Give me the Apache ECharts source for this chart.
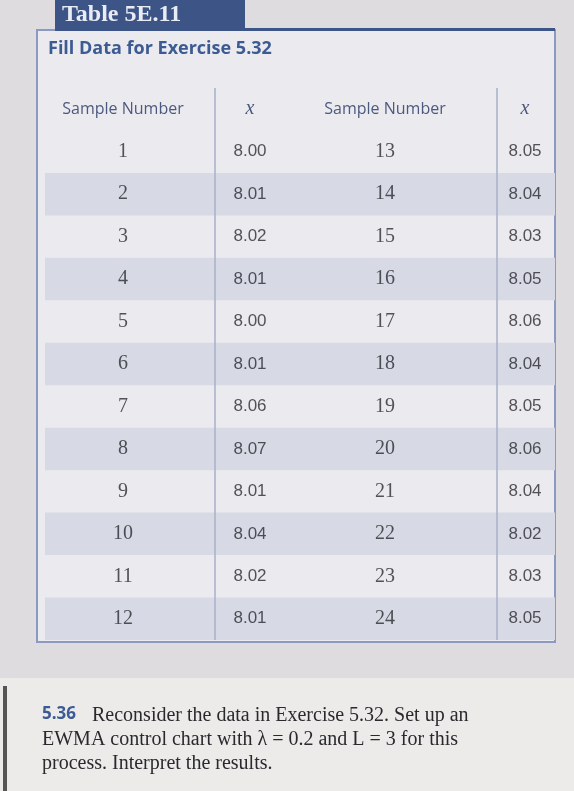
<!DOCTYPE html>
<html><head><meta charset="utf-8">
<script src="https://cdn.jsdelivr.net/npm/echarts@6/dist/echarts.min.js"></script>
<style>html,body{margin:0;padding:0;background:#dedcdf}#c{width:574px;height:791px}</style>
</head><body><div id="c"></div>
<script>
// table data
var rows = ['hdr', 'r1', 'r2', 'r3', 'r4', 'r5', 'r6', 'r7', 'r8', 'r9', 'r10', 'r11', 'r12'];
var sampleLeft = [1, 2, 3, 4, 5, 6, 7, 8, 9, 10, 11, 12];
var xLeft = ['8.00', '8.01', '8.02', '8.01', '8.00', '8.01', '8.06', '8.07', '8.01', '8.04', '8.02', '8.01'];
var sampleRight = [13, 14, 15, 16, 17, 18, 19, 20, 21, 22, 23, 24];
var xRight = ['8.05', '8.04', '8.03', '8.05', '8.06', '8.04', '8.05', '8.06', '8.04', '8.02', '8.03', '8.05'];
var headers = ['Sample Number', 'x', 'Sample Number', 'x'];
var colPos = [78, 205, 340, 480];

var chart = echarts.init(document.getElementById('c'));

function col(values, c, font, size) {
    return {
        type: 'scatter', symbolSize: 0, silent: true, z: 5,
        data: values.map(function (v, i) { return { value: [colPos[c], i + 1], name: String(v) }; }),
        label: { show: true, position: 'inside', formatter: '{b}', color: '#2b2b30', fontSize: size, fontFamily: font }
    };
}

// stripe bars on even rows
var stripeData = rows.map(function (r, i) { return (i > 0 && i % 2 === 0) ? 510 : '-'; });

chart.setOption({
    backgroundColor: '#dedcdf',
    grid: { left: 45, right: 19, top: 88, bottom: 151 },
    xAxis: { type: 'value', min: 0, max: 510, show: false },
    yAxis: { type: 'category', data: rows, inverse: true, show: false, boundaryGap: true },
    graphic: [
        { type: 'rect', shape: { x: 37, y: 30, width: 518, height: 612 }, style: { fill: '#ebeaee', stroke: '#8a9ac0', lineWidth: 2 }, z: -10 },
        { type: 'rect', shape: { x: 55, y: 0, width: 190, height: 31 }, style: { fill: '#3c5486' }, z: -5 },
        { type: 'text', left: 62, top: 3, style: { text: 'Table 5E.11', fill: '#e9ecf5', font: 'bold 24px "Liberation Serif"' } },
        { type: 'rect', shape: { x: 245, y: 28, width: 310, height: 3 }, style: { fill: '#3c5486' } },
        { type: 'text', left: 48, top: 40, style: { text: 'Fill Data for Exercise 5.32', fill: '#3d5b93', font: 'bold 18px "Open Sans"' } },
        { type: 'rect', shape: { x: 0, y: 678, width: 574, height: 113 }, style: { fill: '#ecebea' }, z: -10 },
        { type: 'rect', shape: { x: 3, y: 686, width: 4, height: 105 }, style: { fill: '#555' } },
        { type: 'text', left: 42, top: 706, style: { text: '5.36', fill: '#3d5b93', font: 'bold 17px "Open Sans"' } },
        { type: 'text', left: 42, top: 704, style: { text: '          Reconsider the data in Exercise 5.32. Set up an\nEWMA control chart with \u03bb = 0.2 and L = 3 for this\nprocess. Interpret the results.', fill: '#2a2a2e', font: '20px "Liberation Serif"', lineHeight: 24 } }
    ],
    series: [
        {
            type: 'bar', silent: true, data: stripeData, barWidth: '100%',
            itemStyle: { color: '#d7d9e5' }, z: 1
        },
        {
            type: 'scatter', symbolSize: 0, silent: true, z: 5,
            data: headers.map(function (h, c) { return { value: [colPos[c], 0], name: h }; }),
            label: {
                show: true, position: 'inside', color: '#243463', fontSize: 16, fontFamily: 'Open Sans',
                formatter: function (p) { return p.name === 'x' ? '{i|x}' : p.name; },
                rich: { i: { fontStyle: 'italic', fontFamily: 'Liberation Serif', fontSize: 20, color: '#243463' } }
            },
            markLine: {
                silent: true, symbol: 'none', label: { show: false },
                lineStyle: { color: '#a9b0c9', type: 'solid', width: 1.5 },
                data: [{ xAxis: 170 }, { xAxis: 452 }]
            }
        },
        col(sampleLeft, 0, 'Liberation Serif', 20),
        col(xLeft, 1, 'Liberation Sans', 17),
        col(sampleRight, 2, 'Liberation Serif', 20),
        col(xRight, 3, 'Liberation Sans', 17)
    ]
});
</script></body></html>
